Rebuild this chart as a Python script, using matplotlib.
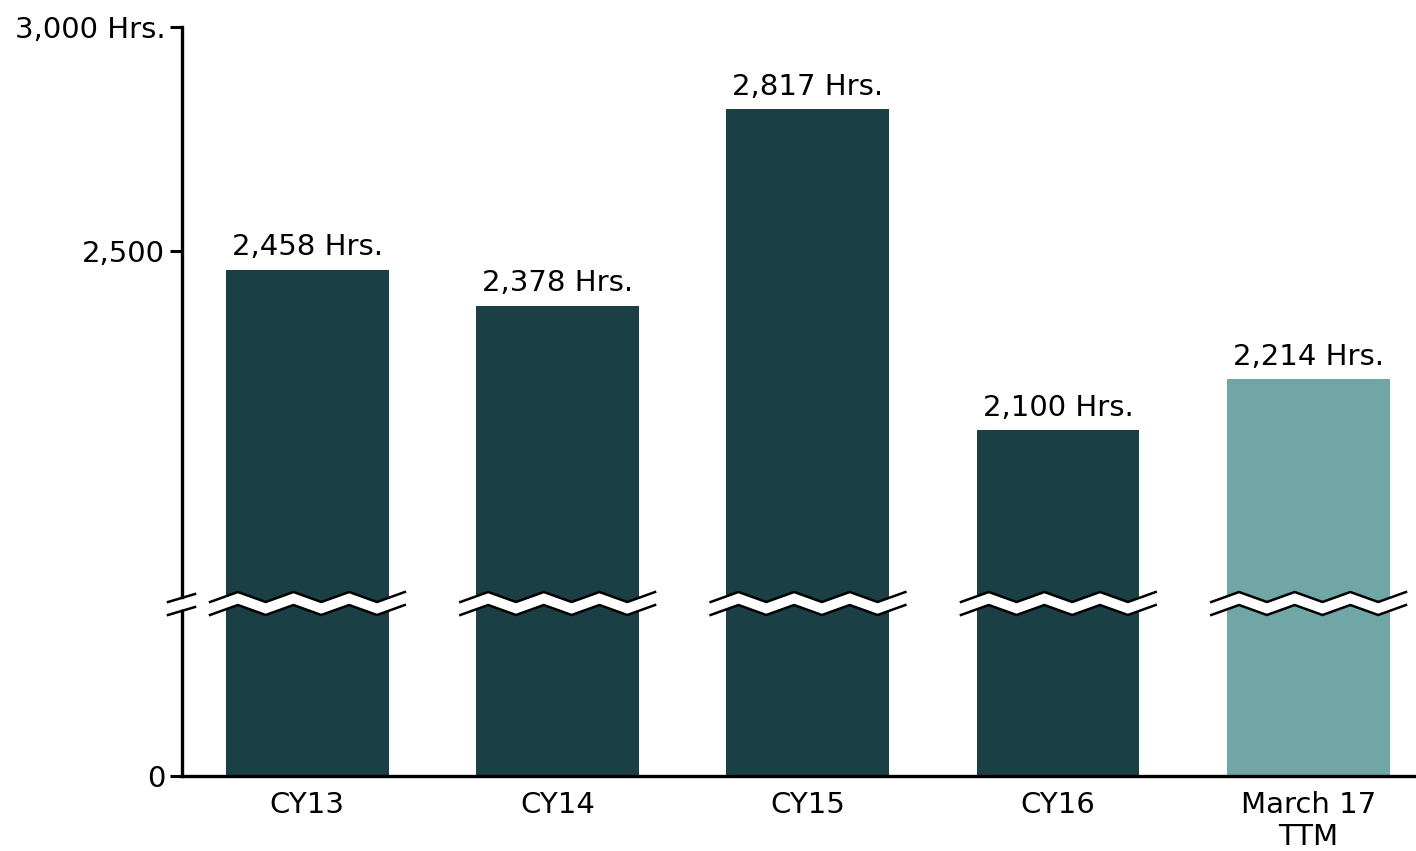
import numpy as np
import matplotlib
matplotlib.use("Agg")
import matplotlib.pyplot as plt
import matplotlib.transforms as mtransforms

categories = ["CY13", "CY14", "CY15", "CY16", "March 17\nTTM"]
hours = [2458, 2378, 2817, 2100, 2214]
bar_labels = ["2,458 Hrs.", "2,378 Hrs.", "2,817 Hrs.", "2,100 Hrs.", "2,214 Hrs."]
colors = ["#1a4045", "#1a4045", "#1a4045", "#1a4045", "#71a6a6"]
ytick_vals = [0, 2500, 3000]
ytick_labels = ["0", "2,500", "3,000 Hrs."]

# broken axis: everything under BRK is squeezed into LOW units
BRK = 1700.0
LOW = 372.0


def fwd(v):
    v = np.asarray(v, dtype=float)
    return np.where(v < BRK, v * LOW / BRK, LOW + (v - BRK))


def inv(u):
    u = np.asarray(u, dtype=float)
    return np.where(u < LOW, u * BRK / LOW, u - LOW + BRK)


plt.rcParams['font.family'] = ['DejaVu Sans']
fs = 21
fig = plt.figure(figsize=(14.16, 8.51), dpi=100)
ax = fig.add_axes([182 / 1416, 1 - 776 / 851, 1 - 182 / 1416, (776 - 27) / 851])
ax.set_yscale('function', functions=(fwd, inv))

x = np.arange(len(categories))
bars = ax.bar(x, hours, width=0.65, color=colors, zorder=2)
for xi, h, lab in zip(x, hours, bar_labels):
    ax.annotate(lab, (xi, h), xytext=(0, 6), textcoords='offset points',
                ha='center', va='bottom', fontsize=fs)

ax.set_xlim(-0.5, 4.43)
ax.set_ylim(0, 3000)
ax.set_xticks(x)
ax.set_xticklabels(categories, fontsize=fs, linespacing=1.2)
ax.set_yticks(ytick_vals)
ax.set_yticklabels(ytick_labels, fontsize=fs)
ax.yaxis.set_minor_locator(matplotlib.ticker.NullLocator())
ax.tick_params(axis='x', length=0, pad=10.5)
ax.tick_params(axis='y', length=9, width=2.2, pad=3)

for s in ['top', 'right', 'left']:
    ax.spines[s].set_visible(False)
ax.spines['bottom'].set_linewidth(2.4)

# left axis drawn by hand with a gap
trans = ax.transAxes
ax.plot([0, 0], [0, (776 - 611) / 749], color='black', lw=2.4, transform=trans, clip_on=False, zorder=5)
ax.plot([0, 0], [(776 - 597) / 749, 1], color='black', lw=2.4, transform=trans, clip_on=False, zorder=5)
ax.plot([-14 / 1234, 13 / 1234], [(776 - 602) / 749, (776 - 594) / 749], color='black', lw=1.8, transform=trans, clip_on=False)
ax.plot([-14 / 1234, 13 / 1234], [(776 - 615) / 749, (776 - 607) / 749], color='black', lw=1.8, transform=trans, clip_on=False)

# zigzag break across each bar
bt = mtransforms.blended_transform_factory(ax.transData, ax.transAxes)
zx = np.linspace(-0.388, 0.39, 8)
up = np.array([602, 592] * 4, dtype=float)
lo = up + 13
up_f = (776 - up) / 749
lo_f = (776 - lo) / 749
for xi in x:
    ax.fill_between(xi + zx, lo_f, up_f, color='white', transform=bt, zorder=3, lw=0)
    ax.plot(xi + zx, up_f, color='black', lw=1.8, transform=bt, zorder=4)
    ax.plot(xi + zx, lo_f, color='black', lw=1.8, transform=bt, zorder=4)

fig.savefig("out.png", dpi=100)
